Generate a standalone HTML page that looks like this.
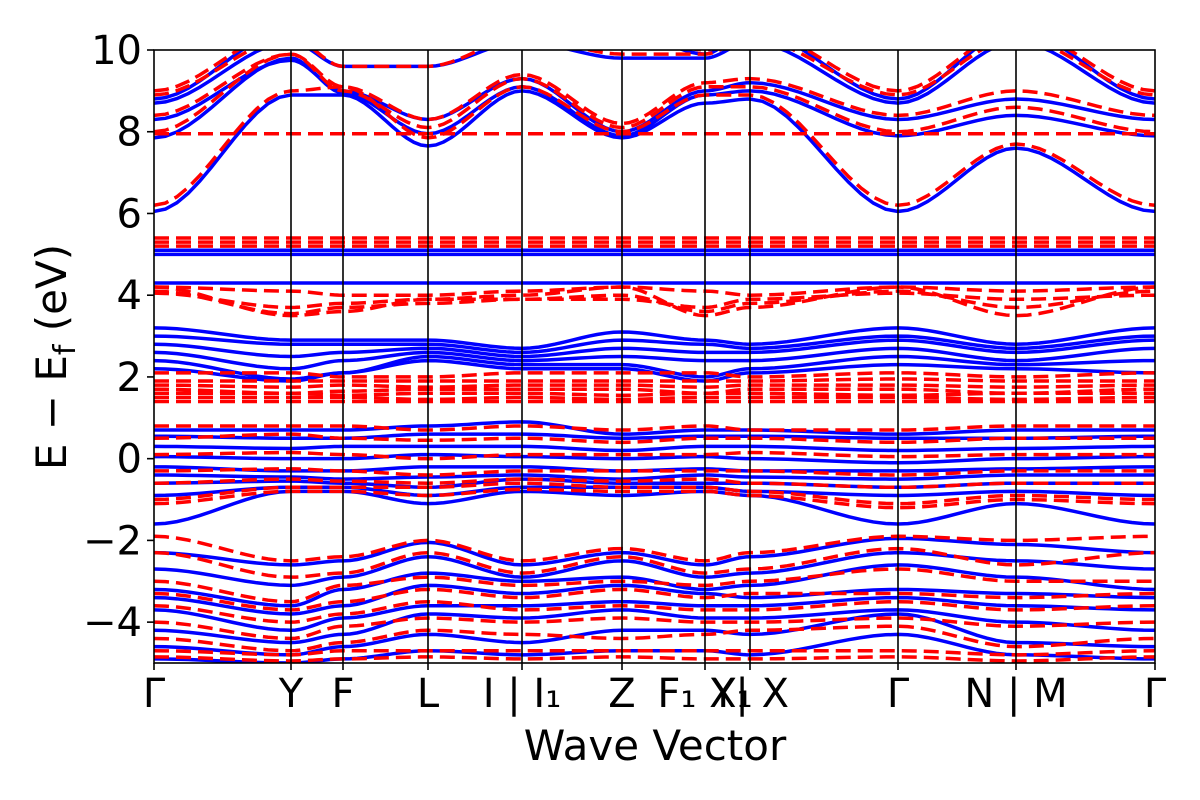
<!DOCTYPE html>
<html><head><meta charset="utf-8"><style>
body{margin:0;background:#fff;}
svg{display:block;font-family:"DejaVu Sans","Liberation Sans",sans-serif;}
</style></head><body>
<svg id="chart" width="1200" height="800" viewBox="0 0 1200 800">
<defs><clipPath id="clip"><rect x="154" y="50" width="1001" height="613"/></clipPath></defs>
<g id="bands" clip-path="url(#clip)"></g>
<g id="axes"></g>
<text transform="translate(66,357) rotate(-90)" text-anchor="middle" font-size="42">E − E<tspan font-size="30" dy="9">f</tspan><tspan dy="-9"> (eV)</tspan></text>
<text x="655" y="760" text-anchor="middle" font-size="42">Wave Vector</text>
</svg>
<script>
const kLabels = ["Γ","Y","F","L","I | I₁","Z","F₁ X₁","Y| X","Γ","N | M","Γ"];
const kPos = [0,291,343,428,522,622,705,750,898,1016,1155];
const yTicks = [10,8,6,4,2,0,-2,-4];
const blueBands = [
[6.05,8.9,8.9,7.65,9.0,7.85,8.7,8.8,6.05,7.6,6.05],
[7.85,9.8,8.95,7.95,9.1,7.9,8.9,9.0,7.9,8.4,7.9],
[8.3,9.75,9.0,8.3,9.3,8.0,9.0,9.2,8.3,8.8,8.3],
[8.7,10.2,9.6,9.6,10.2,9.8,9.8,10.2,8.7,10.2,8.7],
[8.8,10.5,10.5,10.5,10.5,10.5,9.9,10.5,8.8,10.5,8.8],
[5.0,5.0,5.0,5.0,5.0,5.0,5.0,5.0,5.0,5.0,5.0],
[5.1,5.1,5.1,5.1,5.1,5.1,5.1,5.1,5.1,5.1,5.1],
[4.3,4.3,4.3,4.3,4.3,4.3,4.3,4.3,4.3,4.3,4.3],
[3.2,2.9,2.9,2.9,2.7,3.1,2.9,2.8,3.2,2.8,3.2],
[3.0,2.8,2.8,2.8,2.6,2.9,2.8,2.7,3.0,2.7,3.0],
[2.8,2.5,2.6,2.7,2.5,2.7,2.6,2.6,2.9,2.6,2.9],
[2.6,2.2,2.4,2.6,2.4,2.5,2.4,2.4,2.7,2.4,2.7],
[2.4,1.95,2.1,2.5,2.3,2.3,2.0,2.2,2.5,2.3,2.4],
[2.2,1.9,2.1,2.4,2.2,2.2,1.9,2.1,2.3,2.2,2.1],
[0.7,0.7,0.7,0.8,0.9,0.6,0.7,0.7,0.6,0.7,0.7],
[0.55,0.5,0.5,0.6,0.6,0.5,0.55,0.55,0.5,0.5,0.55],
[0.3,0.25,0.3,0.3,0.3,0.2,0.3,0.3,0.2,0.25,0.3],
[0.05,0.0,0.0,0.1,0.05,0.0,0.05,0.0,-0.1,0.0,0.05],
[-0.2,-0.3,-0.3,-0.2,-0.2,-0.3,-0.25,-0.3,-0.3,-0.25,-0.2],
[-0.4,-0.45,-0.5,-0.45,-0.4,-0.5,-0.4,-0.45,-0.5,-0.4,-0.4],
[-0.6,-0.55,-0.6,-0.7,-0.5,-0.6,-0.6,-0.6,-0.7,-0.6,-0.6],
[-0.9,-0.7,-0.7,-0.9,-0.7,-0.7,-0.7,-0.8,-0.9,-0.8,-0.9],
[-1.6,-0.8,-0.8,-1.1,-0.8,-0.9,-0.8,-0.9,-1.6,-1.1,-1.6],
[-2.3,-2.6,-2.5,-2.05,-2.6,-2.3,-2.6,-2.4,-1.95,-2.1,-2.3],
[-2.7,-3.1,-2.9,-2.4,-2.9,-2.5,-2.9,-2.8,-2.3,-2.5,-2.7],
[-3.2,-3.6,-3.2,-2.8,-3.0,-2.9,-3.2,-3.1,-2.6,-2.9,-3.2],
[-3.4,-3.8,-3.6,-3.1,-3.3,-3.1,-3.3,-3.4,-3.2,-3.3,-3.4],
[-3.7,-4.2,-3.9,-3.6,-3.6,-3.5,-3.6,-3.6,-3.4,-3.6,-3.7],
[-4.2,-4.5,-4.3,-3.8,-3.9,-3.7,-3.9,-3.9,-3.7,-4.0,-4.2],
[-4.6,-4.8,-4.6,-4.3,-4.5,-4.2,-4.2,-4.3,-3.8,-4.5,-4.6],
[-4.9,-5.0,-4.9,-4.7,-4.8,-4.7,-4.7,-4.8,-4.3,-4.8,-4.9]
];
const redBands = [
[7.95,7.95,7.95,7.95,7.95,7.95,7.95,7.95,7.95,7.95,7.95],
[6.2,9.0,9.1,7.85,9.1,8.0,8.9,8.9,6.2,7.7,6.2],
[8.0,9.9,9.0,8.1,9.3,8.1,9.1,9.1,8.0,8.6,8.0],
[8.4,9.9,9.1,8.3,9.4,8.2,9.2,9.3,8.4,9.0,8.4],
[8.9,10.3,9.6,9.6,10.3,9.9,9.9,10.3,8.9,10.3,8.9],
[9.0,10.5,10.5,10.5,10.5,10.5,10.0,10.5,9.0,10.5,9.0],
[5.4,5.4,5.4,5.4,5.4,5.4,5.4,5.4,5.4,5.4,5.4],
[5.3,5.3,5.3,5.3,5.3,5.3,5.3,5.3,5.3,5.3,5.3],
[5.2,5.2,5.2,5.2,5.2,5.2,5.2,5.2,5.2,5.2,5.2],
[4.2,3.5,3.6,3.9,4.0,4.2,3.5,3.7,4.2,3.5,4.2],
[4.1,3.55,3.7,3.8,3.9,4.0,3.6,3.8,4.1,3.7,4.1],
[4.05,3.7,3.8,3.9,3.9,3.9,3.7,3.9,4.05,3.9,4.0],
[4.2,4.1,4.0,4.0,4.1,4.2,4.1,4.0,4.2,4.1,4.2],
[2.1,2.1,2.0,2.0,2.1,2.1,2.1,2.0,2.1,2.0,2.1],
[1.9,1.9,1.9,1.9,1.9,1.9,1.9,1.9,1.95,1.9,1.9],
[1.8,1.75,1.8,1.75,1.8,1.8,1.75,1.8,1.8,1.75,1.8],
[1.7,1.6,1.65,1.7,1.7,1.7,1.6,1.7,1.7,1.6,1.7],
[1.6,1.6,1.55,1.6,1.6,1.55,1.6,1.6,1.55,1.6,1.6],
[1.5,1.5,1.5,1.45,1.5,1.45,1.5,1.5,1.5,1.45,1.5],
[1.4,1.4,1.4,1.4,1.4,1.4,1.4,1.4,1.4,1.4,1.4],
[0.8,0.8,0.8,0.7,0.8,0.7,0.8,0.7,0.7,0.8,0.8],
[0.5,0.6,0.5,0.45,0.5,0.4,0.5,0.5,0.4,0.5,0.5],
[0.1,0.15,0.1,0.0,0.1,0.1,0.1,0.15,0.05,0.1,0.1],
[-0.3,-0.25,-0.3,-0.4,-0.3,-0.3,-0.3,-0.3,-0.4,-0.3,-0.3],
[-0.6,-0.5,-0.55,-0.6,-0.5,-0.55,-0.5,-0.6,-0.7,-0.6,-0.6],
[-1.0,-0.7,-0.7,-0.7,-0.6,-0.7,-0.7,-0.8,-1.1,-0.9,-1.0],
[-1.1,-0.8,-0.8,-0.9,-0.75,-0.8,-0.8,-0.9,-1.2,-1.0,-1.1],
[-1.9,-2.5,-2.4,-2.0,-2.5,-2.2,-2.5,-2.3,-1.9,-2.0,-1.9],
[-2.3,-2.9,-2.8,-2.3,-2.8,-2.4,-2.8,-2.7,-2.2,-2.6,-2.3],
[-3.0,-3.5,-3.1,-2.9,-3.1,-3.0,-3.1,-3.0,-2.7,-3.0,-3.0],
[-3.3,-3.7,-3.5,-3.2,-3.4,-3.2,-3.4,-3.3,-3.3,-3.4,-3.3],
[-3.6,-4.0,-3.8,-3.5,-3.7,-3.6,-3.7,-3.7,-3.5,-3.7,-3.6],
[-4.0,-4.4,-4.1,-3.9,-4.0,-3.9,-4.0,-4.0,-3.9,-4.1,-4.0],
[-4.4,-4.7,-4.5,-4.2,-4.3,-4.4,-4.3,-4.2,-4.1,-4.6,-4.4],
[-4.7,-4.8,-4.7,-4.7,-4.7,-4.7,-4.7,-4.7,-4.7,-4.8,-4.7],
[-4.85,-4.95,-4.9,-4.85,-4.9,-4.85,-4.9,-4.9,-4.85,-4.95,-4.85]
];
const X0=154, X1=1155, Y0=50, Y1=663, EMIN=-5, EMAX=10;
function xS(i){ return i===0 ? X0 : kPos[i]; }
function yS(e){ return Y0 + (EMAX-e)/(EMAX-EMIN)*(Y1-Y0); }
const NS="http://www.w3.org/2000/svg";
function pathFor(vals){
  let d="M"+xS(0)+","+yS(vals[0]).toFixed(2);
  for(let i=0;i<vals.length-1;i++){
    const xa=xS(i), xb=xS(i+1), ea=vals[i], eb=vals[i+1];
    for(let s=1;s<=12;s++){
      const t=s/12, h=t*t*(3-2*t);
      d+=" L"+(xa+(xb-xa)*t).toFixed(2)+","+yS(ea+(eb-ea)*h).toFixed(2);
    }
  }
  return d;
}
const bg=document.getElementById("bands");
blueBands.forEach(function(b){
  const p=document.createElementNS(NS,"path");
  p.setAttribute("d",pathFor(b));
  p.setAttribute("fill","none");p.setAttribute("stroke","#0000ff");p.setAttribute("stroke-width","3.5");
  
  
  bg.appendChild(p);
});
redBands.forEach(function(b){
  const p=document.createElementNS(NS,"path");
  p.setAttribute("d",pathFor(b));
  p.setAttribute("fill","none");p.setAttribute("stroke","#ff0000");p.setAttribute("stroke-width","3.5");
  p.setAttribute("stroke-dasharray","15,7");
  
  
  bg.appendChild(p);
});
const ax=document.getElementById("axes");
for(let i=1;i<kPos.length-1;i++){
  const l=document.createElementNS(NS,"line");
  l.setAttribute("x1",xS(i));l.setAttribute("x2",xS(i));l.setAttribute("y1",Y0);l.setAttribute("y2",Y1);
  l.setAttribute("stroke","#000");l.setAttribute("stroke-width","1.6");
  
  
  ax.appendChild(l);
}
const fr=document.createElementNS(NS,"rect");
fr.setAttribute("x",X0);fr.setAttribute("y",Y0);fr.setAttribute("width",X1-X0);fr.setAttribute("height",Y1-Y0);
fr.setAttribute("fill","none");fr.setAttribute("stroke","#000");fr.setAttribute("stroke-width","1.6");


ax.appendChild(fr);
yTicks.forEach(function(v){
  const y=yS(v);
  const t=document.createElementNS(NS,"line");
  t.setAttribute("x1",X0-7);t.setAttribute("x2",X0);t.setAttribute("y1",y);t.setAttribute("y2",y);
  t.setAttribute("stroke","#000");t.setAttribute("stroke-width","1.6");
  
  
  ax.appendChild(t);
  const tx=document.createElementNS(NS,"text");
  tx.setAttribute("x",X0-12);tx.setAttribute("y",y+14);tx.setAttribute("text-anchor","end");tx.setAttribute("font-size","40");
  tx.textContent=(v<0?"−"+(-v):String(v));
  
  
  ax.appendChild(tx);
});
kLabels.forEach(function(lab,i){
  const x=xS(i);
  const t=document.createElementNS(NS,"line");
  t.setAttribute("x1",x);t.setAttribute("x2",x);t.setAttribute("y1",Y1);t.setAttribute("y2",Y1+7);
  t.setAttribute("stroke","#000");t.setAttribute("stroke-width","1.6");
  
  
  ax.appendChild(t);
  const tx=document.createElementNS(NS,"text");
  tx.setAttribute("x",x);tx.setAttribute("y",Y1+44);tx.setAttribute("text-anchor","middle");tx.setAttribute("font-size","40");
  tx.textContent=lab;
  
  
  ax.appendChild(tx);
});
</script>
</body></html>
